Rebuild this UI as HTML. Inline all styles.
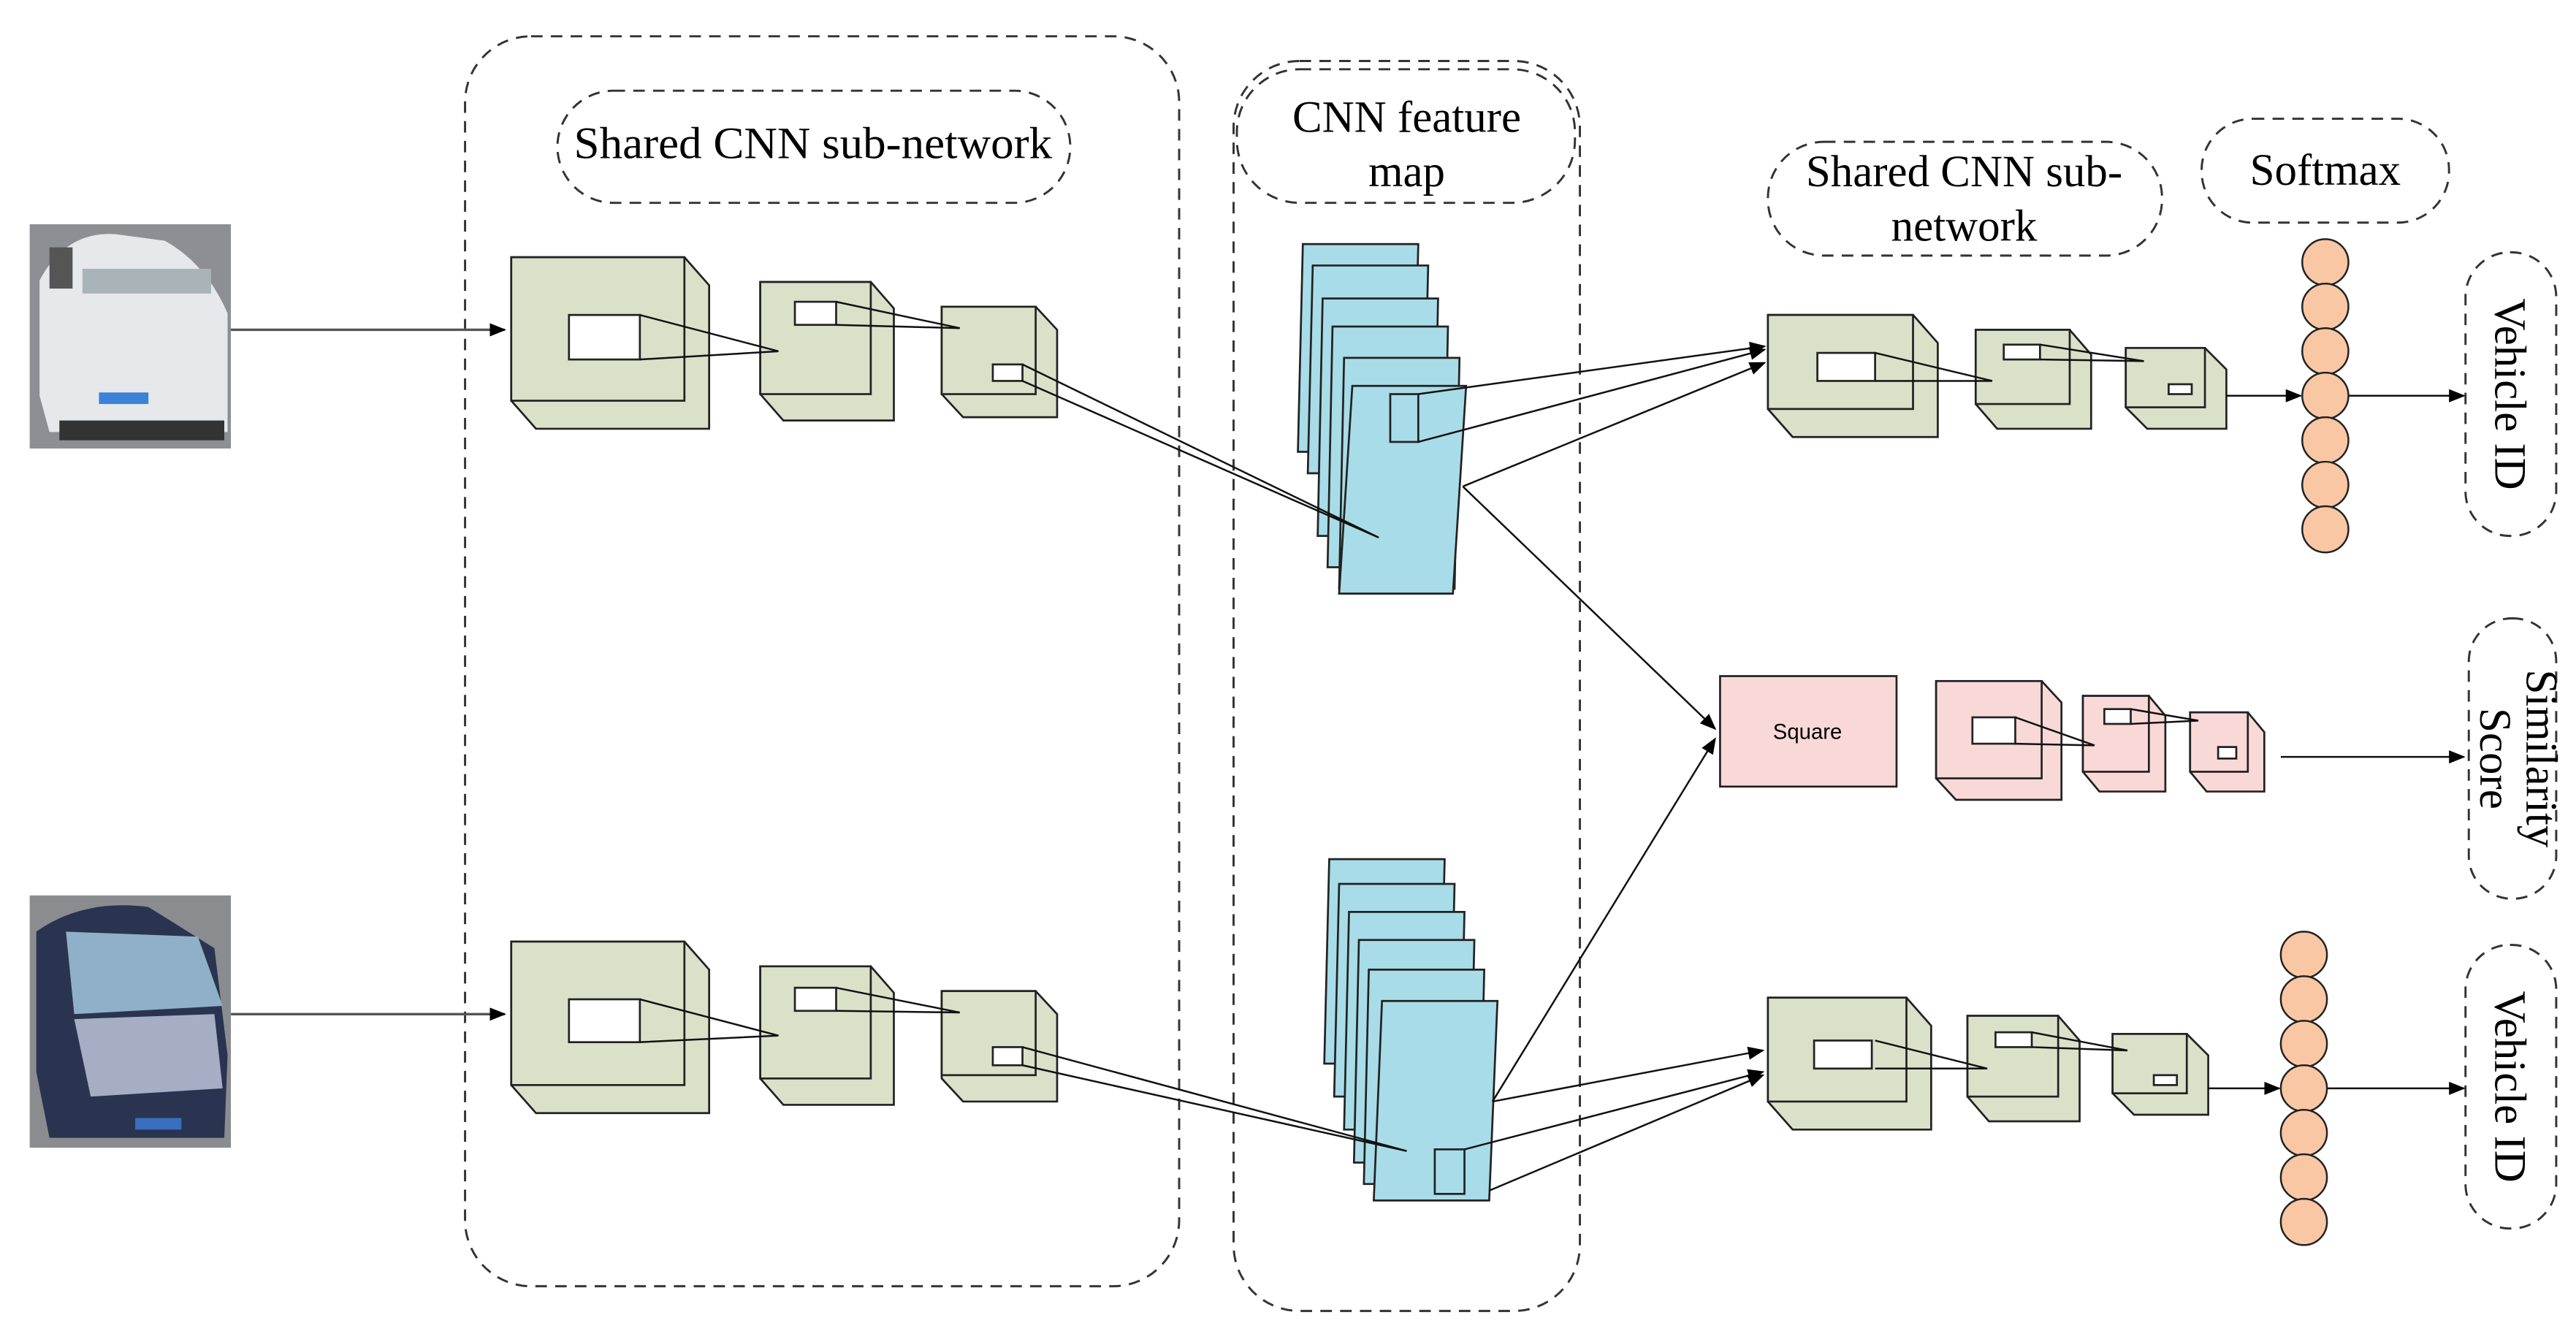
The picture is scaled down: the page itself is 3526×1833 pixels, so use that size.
<!DOCTYPE html>
<html><head><meta charset="utf-8"><style>html,body{margin:0;padding:0;background:#fff}svg{display:block}</style></head>
<body>
<svg width="3526" height="1833" viewBox="0 0 1562 812" preserveAspectRatio="none" xmlns="http://www.w3.org/2000/svg" font-family="Liberation Serif, serif">
<defs>
<marker id="ar" markerWidth="10" markerHeight="8" refX="9" refY="4" orient="auto" markerUnits="userSpaceOnUse"><path d="M0,0 L10,4 L0,8 z" fill="#000"/></marker>
</defs>
<g fill="none" stroke="#333" stroke-width="1.3" stroke-dasharray="7,5">
<rect x="282" y="22" width="433" height="758" rx="40"/>
<rect x="748" y="37" width="210" height="758" rx="40"/>
<rect x="338" y="55" width="311" height="68" rx="34"/>
<rect x="750" y="42" width="205" height="81" rx="38"/>
<rect x="1072" y="86" width="239" height="69" rx="34"/>
<rect x="1335" y="72" width="150" height="63" rx="31"/>
<rect x="1495" y="153" width="55" height="172" rx="27"/>
<rect x="1497" y="375" width="53" height="170" rx="26"/>
<rect x="1495" y="573" width="55" height="172" rx="27"/>
</g>
<g font-size="27" fill="#000" text-anchor="middle">
<text x="493" y="96" textLength="290" lengthAdjust="spacingAndGlyphs">Shared CNN sub-network</text>
<text x="853" y="80">CNN feature</text>
<text x="853" y="113">map</text>
<text x="1191" y="113">Shared CNN sub-</text>
<text x="1191" y="146">network</text>
<text x="1410" y="112">Softmax</text>
<text transform="translate(1513,239) rotate(90)">Vehicle ID</text>
<text transform="translate(1513,659) rotate(90)">Vehicle ID</text>
<text transform="translate(1532,460) rotate(90)">Similarity</text>
<text transform="translate(1504,460) rotate(90)">Score</text>
</g>
<!-- cars -->
<rect x="18" y="136" width="122" height="136" fill="#8d8f94"/>
<path d="M24,170 Q40,140 70,142 L100,146 Q125,160 138,190 L138,262 L30,262 L24,240 z" fill="#e6e8ec"/>
<rect x="50" y="163" width="78" height="15" fill="#a8b4b8"/>
<rect x="30" y="150" width="14" height="25" fill="#555"/>
<rect x="60" y="238" width="30" height="7" fill="#3c82d6"/>
<rect x="36" y="255" width="100" height="12" fill="#333"/>
<rect x="18" y="543" width="122" height="153" fill="#8a8c90"/>
<path d="M22,565 Q50,545 90,550 L130,575 L138,640 L136,690 L30,690 L22,650 z" fill="#2a3450"/>
<path d="M40,565 L120,568 L135,610 L45,615 z" fill="#8fb0c8"/>
<path d="M45,618 L130,615 L135,660 L55,665 z" fill="#a5aec4"/>
<rect x="82" y="678" width="28" height="7" fill="#3a6fc0"/>
<g stroke="#555" stroke-width="1.5" fill="none">
<line x1="140" y1="200" x2="306" y2="200" marker-end="url(#ar)"/>
<line x1="140" y1="615" x2="306" y2="615" marker-end="url(#ar)"/>
</g>
<g stroke="#222" stroke-width="1.2" fill="#dbe0c8">
<path d="M310,156 h105 l15,17 v87 h-105 l-15,-17 z"/><rect x="310" y="156" width="105" height="87"/>
<path d="M461,171 h67 l14,16 v68 h-67 l-14,-16 z"/><rect x="461" y="171" width="67" height="68"/>
<path d="M571,186 h57 l13,14 v53 h-57 l-13,-14 z"/><rect x="571" y="186" width="57" height="53"/>
<path d="M310,571 h105 l15,17 v87 h-105 l-15,-17 z"/><rect x="310" y="571" width="105" height="87"/>
<path d="M461,586 h67 l14,16 v68 h-67 l-14,-16 z"/><rect x="461" y="586" width="67" height="68"/>
<path d="M571,601 h57 l13,14 v53 h-57 l-13,-14 z"/><rect x="571" y="601" width="57" height="51"/>
<path d="M1072,191 h88 l15,17 v57 h-88 l-15,-17 z"/><rect x="1072" y="191" width="88" height="57"/>
<path d="M1198,200 h57 l13,15 v45 h-57 l-13,-15 z"/><rect x="1198" y="200" width="57" height="45"/>
<path d="M1289,211 h48 l13,13 v36 h-48 l-13,-13 z"/><rect x="1289" y="211" width="48" height="36"/>
<path d="M1072,605 h84 l15,17 v63 h-84 l-15,-17 z"/><rect x="1072" y="605" width="84" height="63"/>
<path d="M1193,616 h55 l13,15 v49 h-55 l-13,-15 z"/><rect x="1193" y="616" width="55" height="49"/>
<path d="M1281,627 h45 l13,13 v36 h-45 l-13,-13 z"/><rect x="1281" y="627" width="45" height="36"/>
</g>
<g stroke="#222" stroke-width="1.2" fill="#f9d9d7">
<rect x="1043" y="410" width="107" height="67"/>
<path d="M1174,413 h64 l12,13 v59 h-64 l-12,-13 z"/><rect x="1174" y="413" width="64" height="59"/>
<path d="M1263,422 h40 l10,12 v46 h-40 l-10,-12 z"/><rect x="1263" y="422" width="40" height="46"/>
<path d="M1328,432 h35 l10,12 v36 h-35 l-10,-12 z"/><rect x="1328" y="432" width="35" height="36"/>
</g>
<text x="1096" y="448" font-family="Liberation Sans, sans-serif" font-size="13" text-anchor="middle">Square</text>
<g fill="#fff" stroke="#222" stroke-width="1.2">
<rect x="345" y="191" width="43" height="27"/><rect x="482" y="183" width="25" height="14"/><rect x="602" y="221" width="18" height="10"/>
<rect x="345" y="606" width="43" height="26"/><rect x="482" y="599" width="25" height="14"/><rect x="602" y="635" width="18" height="11"/>
<rect x="1102" y="214" width="35" height="17"/><rect x="1215" y="209" width="22" height="9"/><rect x="1315" y="233" width="14" height="6"/>
<rect x="1100" y="631" width="35" height="17"/><rect x="1210" y="626" width="22" height="9"/><rect x="1306" y="652" width="14" height="6"/>
<rect x="1196" y="435" width="26" height="16"/><rect x="1276" y="430" width="16" height="9"/><rect x="1345" y="453" width="11" height="7"/>
</g>
<g stroke="#222" stroke-width="1.2" fill="#a8dce8">
<path d="M790,148 h70 l-3,126 h-70 z"/>
<path d="M796,161 h70 l-3,126 h-70 z"/>
<path d="M802,181 h70 l-3,144 h-70 z"/>
<path d="M808,198 h70 l-3,146 h-70 z"/>
<path d="M815,217 h70 l-3,140 h-70 z"/>
<path d="M820,234 h69 l-8,126 h-69 z"/>
<rect x="843" y="239" width="17" height="29"/>
<path d="M806,521 h70 l-3,124 h-70 z"/>
<path d="M812,536 h70 l-3,129 h-70 z"/>
<path d="M818,553 h70 l-3,132 h-70 z"/>
<path d="M824,570 h70 l-3,135 h-70 z"/>
<path d="M830,588 h70 l-3,130 h-70 z"/>
<path d="M838,607 h70 l-5,121 h-70 z"/>
<rect x="870" y="697" width="18" height="27"/>
</g>
<g stroke="#111" stroke-width="1.1" fill="none">
<polyline points="388,191 472,213 388,218"/>
<polyline points="507,183 582,199 507,197"/>
<polyline points="620,221 836,326 620,231"/>
<polyline points="388,606 472,628 388,632"/>
<polyline points="507,599 582,614 507,613"/>
<polyline points="620,635 853,698 620,646"/>
<polyline points="1137,214 1208,231 1137,231"/>
<polyline points="1237,209 1300,219 1237,218"/>
<polyline points="1137,631 1205,648 1137,648"/>
<polyline points="1232,626 1290,637 1232,635"/>
<polyline points="1222,435 1270,452 1222,451"/>
<polyline points="1292,430 1333,437 1292,439"/>
<line x1="860" y1="239" x2="1070" y2="210" marker-end="url(#ar)"/>
<line x1="860" y1="268" x2="1070" y2="212" marker-end="url(#ar)"/>
<line x1="887" y1="295" x2="1070" y2="220" marker-end="url(#ar)"/>
<line x1="887" y1="295" x2="1040" y2="442" marker-end="url(#ar)"/>
<line x1="905" y1="668" x2="1069" y2="637" marker-end="url(#ar)"/>
<line x1="888" y1="697" x2="1069" y2="650" marker-end="url(#ar)"/>
<line x1="903" y1="722" x2="1069" y2="652" marker-end="url(#ar)"/>
<line x1="905" y1="668" x2="1040" y2="448" marker-end="url(#ar)"/>
<line x1="1350" y1="240" x2="1395" y2="240" marker-end="url(#ar)"/>
<line x1="1423" y1="240" x2="1494" y2="240" marker-end="url(#ar)"/>
<line x1="1339" y1="660" x2="1382" y2="660" marker-end="url(#ar)"/>
<line x1="1410" y1="660" x2="1494" y2="660" marker-end="url(#ar)"/>
<line x1="1383" y1="459" x2="1494" y2="459" marker-end="url(#ar)"/>
</g>
<g stroke="#222" stroke-width="1.1" fill="#f9c7a4">
<circle cx="1410" cy="159" r="14"/><circle cx="1410" cy="186" r="14"/><circle cx="1410" cy="213" r="14"/><circle cx="1410" cy="240" r="14"/><circle cx="1410" cy="267" r="14"/><circle cx="1410" cy="294" r="14"/><circle cx="1410" cy="321" r="14"/>
<circle cx="1397" cy="579" r="14"/><circle cx="1397" cy="606" r="14"/><circle cx="1397" cy="633" r="14"/><circle cx="1397" cy="660" r="14"/><circle cx="1397" cy="687" r="14"/><circle cx="1397" cy="714" r="14"/><circle cx="1397" cy="741" r="14"/>
</g>
</svg>
</body></html>
